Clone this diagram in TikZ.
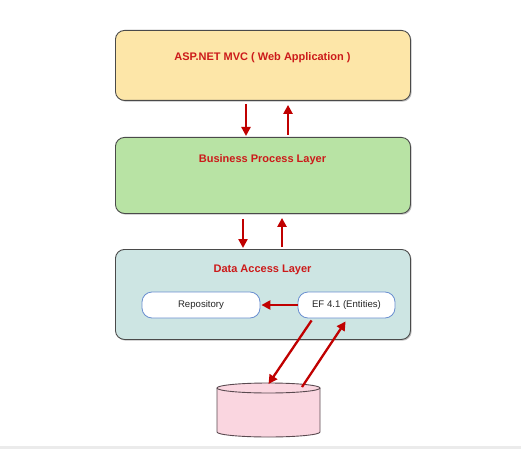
\documentclass[tikz,border=0pt]{standalone}
\usepackage{fontspec}
\setmainfont{Liberation Sans}
\usetikzlibrary{arrows.meta,calc,shadows}
\definecolor{txtred}{HTML}{CC1A1A}
\definecolor{arrred}{HTML}{C00000}
\definecolor{boxorange}{HTML}{FDE6A8}
\definecolor{boxgreen}{HTML}{B8E3A4}
\definecolor{boxteal}{HTML}{CDE5E3}
\definecolor{boxedge}{HTML}{4A4A4A}
\definecolor{inneredge}{HTML}{6A8FD0}
\definecolor{dbpink}{HTML}{FAD6E0}
\definecolor{dbedge}{HTML}{5A4A50}
\tikzset{
  layer/.style={draw=boxedge, line width=0.9pt, rounded corners=9pt, minimum width=295pt, anchor=north west, inner sep=0pt,
    drop shadow={shadow xshift=1.2pt, shadow yshift=-1.2pt, opacity=0.25, fill=black}},
  layertitle/.style={text=txtred, font=\fontsize{11}{13}\selectfont\bfseries},
  inner/.style={draw=inneredge, line width=0.8pt, fill=white, rounded corners=10pt, minimum height=26pt, inner sep=0pt, font=\fontsize{9.6}{11}\selectfont, text=black!85},
  redarrow/.style={draw=arrred, line width=2.3pt, -{Triangle[length=9pt,width=9pt]}}
}
\begin{document}
\begin{tikzpicture}[x=1pt,y=-1pt]
\useasboundingbox (0,0) rectangle (521,449);
\fill[black!8] (0,446) rectangle (521,449);
% layers
\node[layer, fill=boxorange, minimum height=70pt] (web) at (115,30) {};
\node[layertitle] (webt) at (262.5,58) {ASP.NET MVC ( Web Application )};
\node[layer, fill=boxgreen, minimum height=76pt] (bpl) at (115,137) {};
\node[layertitle] (bplt) at (262.5,160) {Business Process Layer};
\node[layer, fill=boxteal, minimum height=90pt] (dal) at (115,249) {};
\node[layertitle] (dalt) at (262.5,270) {Data Access Layer};
% inner nodes
\node[inner, minimum width=118pt] (repo) at (201,305) {Repository};
\node[inner, minimum width=97pt] (ef) at (346.5,305) {EF 4.1 (Entities)};
% database (cylinder)
\fill[dbpink] (217,388) -- (217,432) arc[start angle=180, end angle=0, x radius=51.5, y radius=5] -- (320,388) -- cycle;
\fill[dbpink] (268.5,388) ellipse[x radius=51.5, y radius=5];
\draw[dbedge, line width=0.9pt] (217,388) -- (217,432) arc[start angle=180, end angle=0, x radius=51.5, y radius=5] -- (320,388);
\draw[dbedge, line width=0.9pt] (268.5,388) ellipse[x radius=51.5, y radius=5];
\coordinate (dbtop) at (268.5,384);
\coordinate (dbstart) at (302,387);
% arrows
\draw[redarrow] ($(web.south west)+(131,3)$) -- ($(bpl.north west)+(131,-1)$);
\draw[redarrow] ($(bpl.north west)+(173,-2)$) -- ($(web.south west)+(173,4)$);
\draw[redarrow] ($(bpl.south west)+(128,5)$) -- ($(dal.north west)+(128,-1)$);
\draw[redarrow] ($(dal.north west)+(167,-2)$) -- ($(bpl.south west)+(167,4)$);
\draw[redarrow] (ef.west) -- ($(repo.east)+(1,0)$);
\draw[redarrow] ($(ef.south west)+(14,2)$) -- (dbtop);
\draw[redarrow] (dbstart) -- ($(ef.south west)+(48,3)$);
\end{tikzpicture}
\end{document}
